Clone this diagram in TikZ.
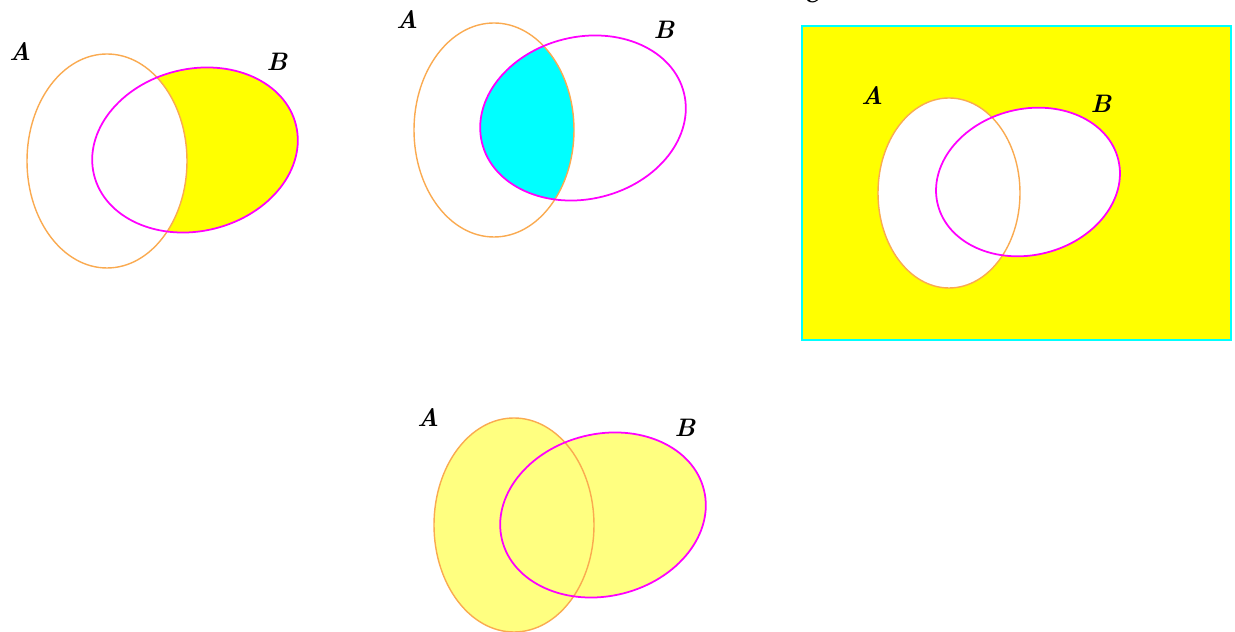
\documentclass[tikz,border=0pt]{standalone}
\usepackage{tikz}
\usetikzlibrary{positioning}
\definecolor{setorange}{RGB}{250,170,80}
\definecolor{setmagenta}{RGB}{255,0,255}
\definecolor{shadeyellow}{RGB}{255,255,0}
\definecolor{paleyellow}{RGB}{255,255,128}
\definecolor{shadecyan}{RGB}{0,255,255}
\begin{document}
\begin{tikzpicture}[x=0.02cm,y=0.02cm,
    setA/.style={draw=setorange,line width=0.8pt},
    setB/.style={draw=setmagenta,line width=1pt},
    lbl/.style={font=\Large\bfseries\itshape,inner sep=0pt}]
  \useasboundingbox (0,0) rectangle (1235,632);
  % difference B - A
  \fill[shadeyellow] (195,482) circle[x radius=104,y radius=81,rotate=14];
  \fill[white] (107,471) circle[x radius=80,y radius=107];
  \draw[setA] (107,471) circle[x radius=80,y radius=107];
  \draw[setB] (195,482) circle[x radius=104,y radius=81,rotate=14];
  \node[lbl] (a1) at (20,580) {A};
  \node[lbl] (b1) at (277,570) {B};
  % intersection
  \begin{scope}
    \clip (494,502) circle[x radius=80,y radius=107];
    \fill[shadecyan] (583,514) circle[x radius=104,y radius=81,rotate=14];
  \end{scope}
  \draw[setA] (494,502) circle[x radius=80,y radius=107];
  \draw[setB] (583,514) circle[x radius=104,y radius=81,rotate=14];
  \node[lbl] (a2) at (407,612) {A};
  \node[lbl] (b2) at (664,602) {B};
  % complement of union
  \fill[shadeyellow] (802,292) rectangle (1231,606);
  \fill[white] (949,439) circle[x radius=71,y radius=95];
  \fill[white] (1028,450) circle[x radius=93,y radius=73,rotate=14];
  \draw[setA] (949,439) circle[x radius=71,y radius=95];
  \draw[setB] (1028,450) circle[x radius=93,y radius=73,rotate=14];
  \draw[shadecyan,line width=1pt] (802,292) rectangle (1231,606);
  \node[lbl] (a3) at (872,536) {A};
  \node[lbl] (b3) at (1101,528) {B};
  \node[lbl] (u3) at (812,638) {U};
  % union
  \fill[paleyellow] (514,107) circle[x radius=80,y radius=107];
  \fill[paleyellow] (603,117) circle[x radius=104,y radius=81,rotate=14];
  \draw[setA] (514,107) circle[x radius=80,y radius=107];
  \draw[setB] (603,117) circle[x radius=104,y radius=81,rotate=14];
  \node[lbl] (a4) at (428,214) {A};
  \node[lbl] (b4) at (685,204) {B};
\end{tikzpicture}
\end{document}
